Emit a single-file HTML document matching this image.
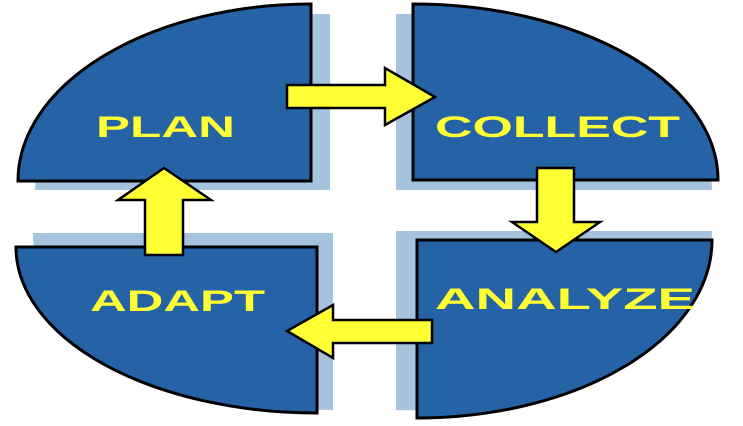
<!DOCTYPE html>
<html><head><style>
html,body{margin:0;padding:0;background:#fff;}
svg{display:block;}
text{font-family:"Liberation Sans",sans-serif;font-weight:bold;font-size:30px;fill:#ffff33;}
</style></head><body>
<svg width="743" height="426" viewBox="0 0 743 426">
<g fill="#a6c3dd">
<path d="M35,190 A293,177 0 0 1 330,14 L330,190 Z"/>
<path d="M396,14 A300,177 0 0 1 712,190 L396,190 Z"/>
<path d="M396,231 L712,231 A300,178 0 0 1 396,410 Z"/>
<path d="M333,233 L333,410 A300,176 0 0 1 33,233 Z"/>
</g>
<g fill="#2563a6" stroke="#000" stroke-width="3">
<path d="M18,181 A293,177 0 0 1 311,4 L311,181 Z"/>
<path d="M413,4 A305,176 0 0 1 718,180 L413,180 Z"/>
<path d="M417,240 L712,240 A295,178 0 0 1 417,418 Z"/>
<path d="M317,247 L317,413 A301,166 0 0 1 16,247 Z"/>
</g>
<g fill="#ffff33" stroke="#000" stroke-width="2.5" stroke-linejoin="miter">
<path d="M287,85 L385,85 L385,68 L435,97 L385,125 L385,108 L287,108 Z"/>
<path d="M537,168 L574,168 L574,222 L600,222 L556,252 L512,222 L537,222 Z"/>
<path d="M432,320 L333,320 L333,305 L287,331 L333,358 L333,343 L432,343 Z"/>
<path d="M145,255 L183,255 L183,200 L211,200 L164,168 L118,200 L145,200 Z"/>
</g>
<text x="96" y="137" textLength="139" lengthAdjust="spacingAndGlyphs">PLAN</text>
<text x="435" y="137" textLength="245" lengthAdjust="spacingAndGlyphs">COLLECT</text>
<text x="435" y="309" textLength="260" lengthAdjust="spacingAndGlyphs">ANALYZE</text>
<text x="90" y="311" textLength="175" lengthAdjust="spacingAndGlyphs">ADAPT</text>
</svg>
</body></html>
